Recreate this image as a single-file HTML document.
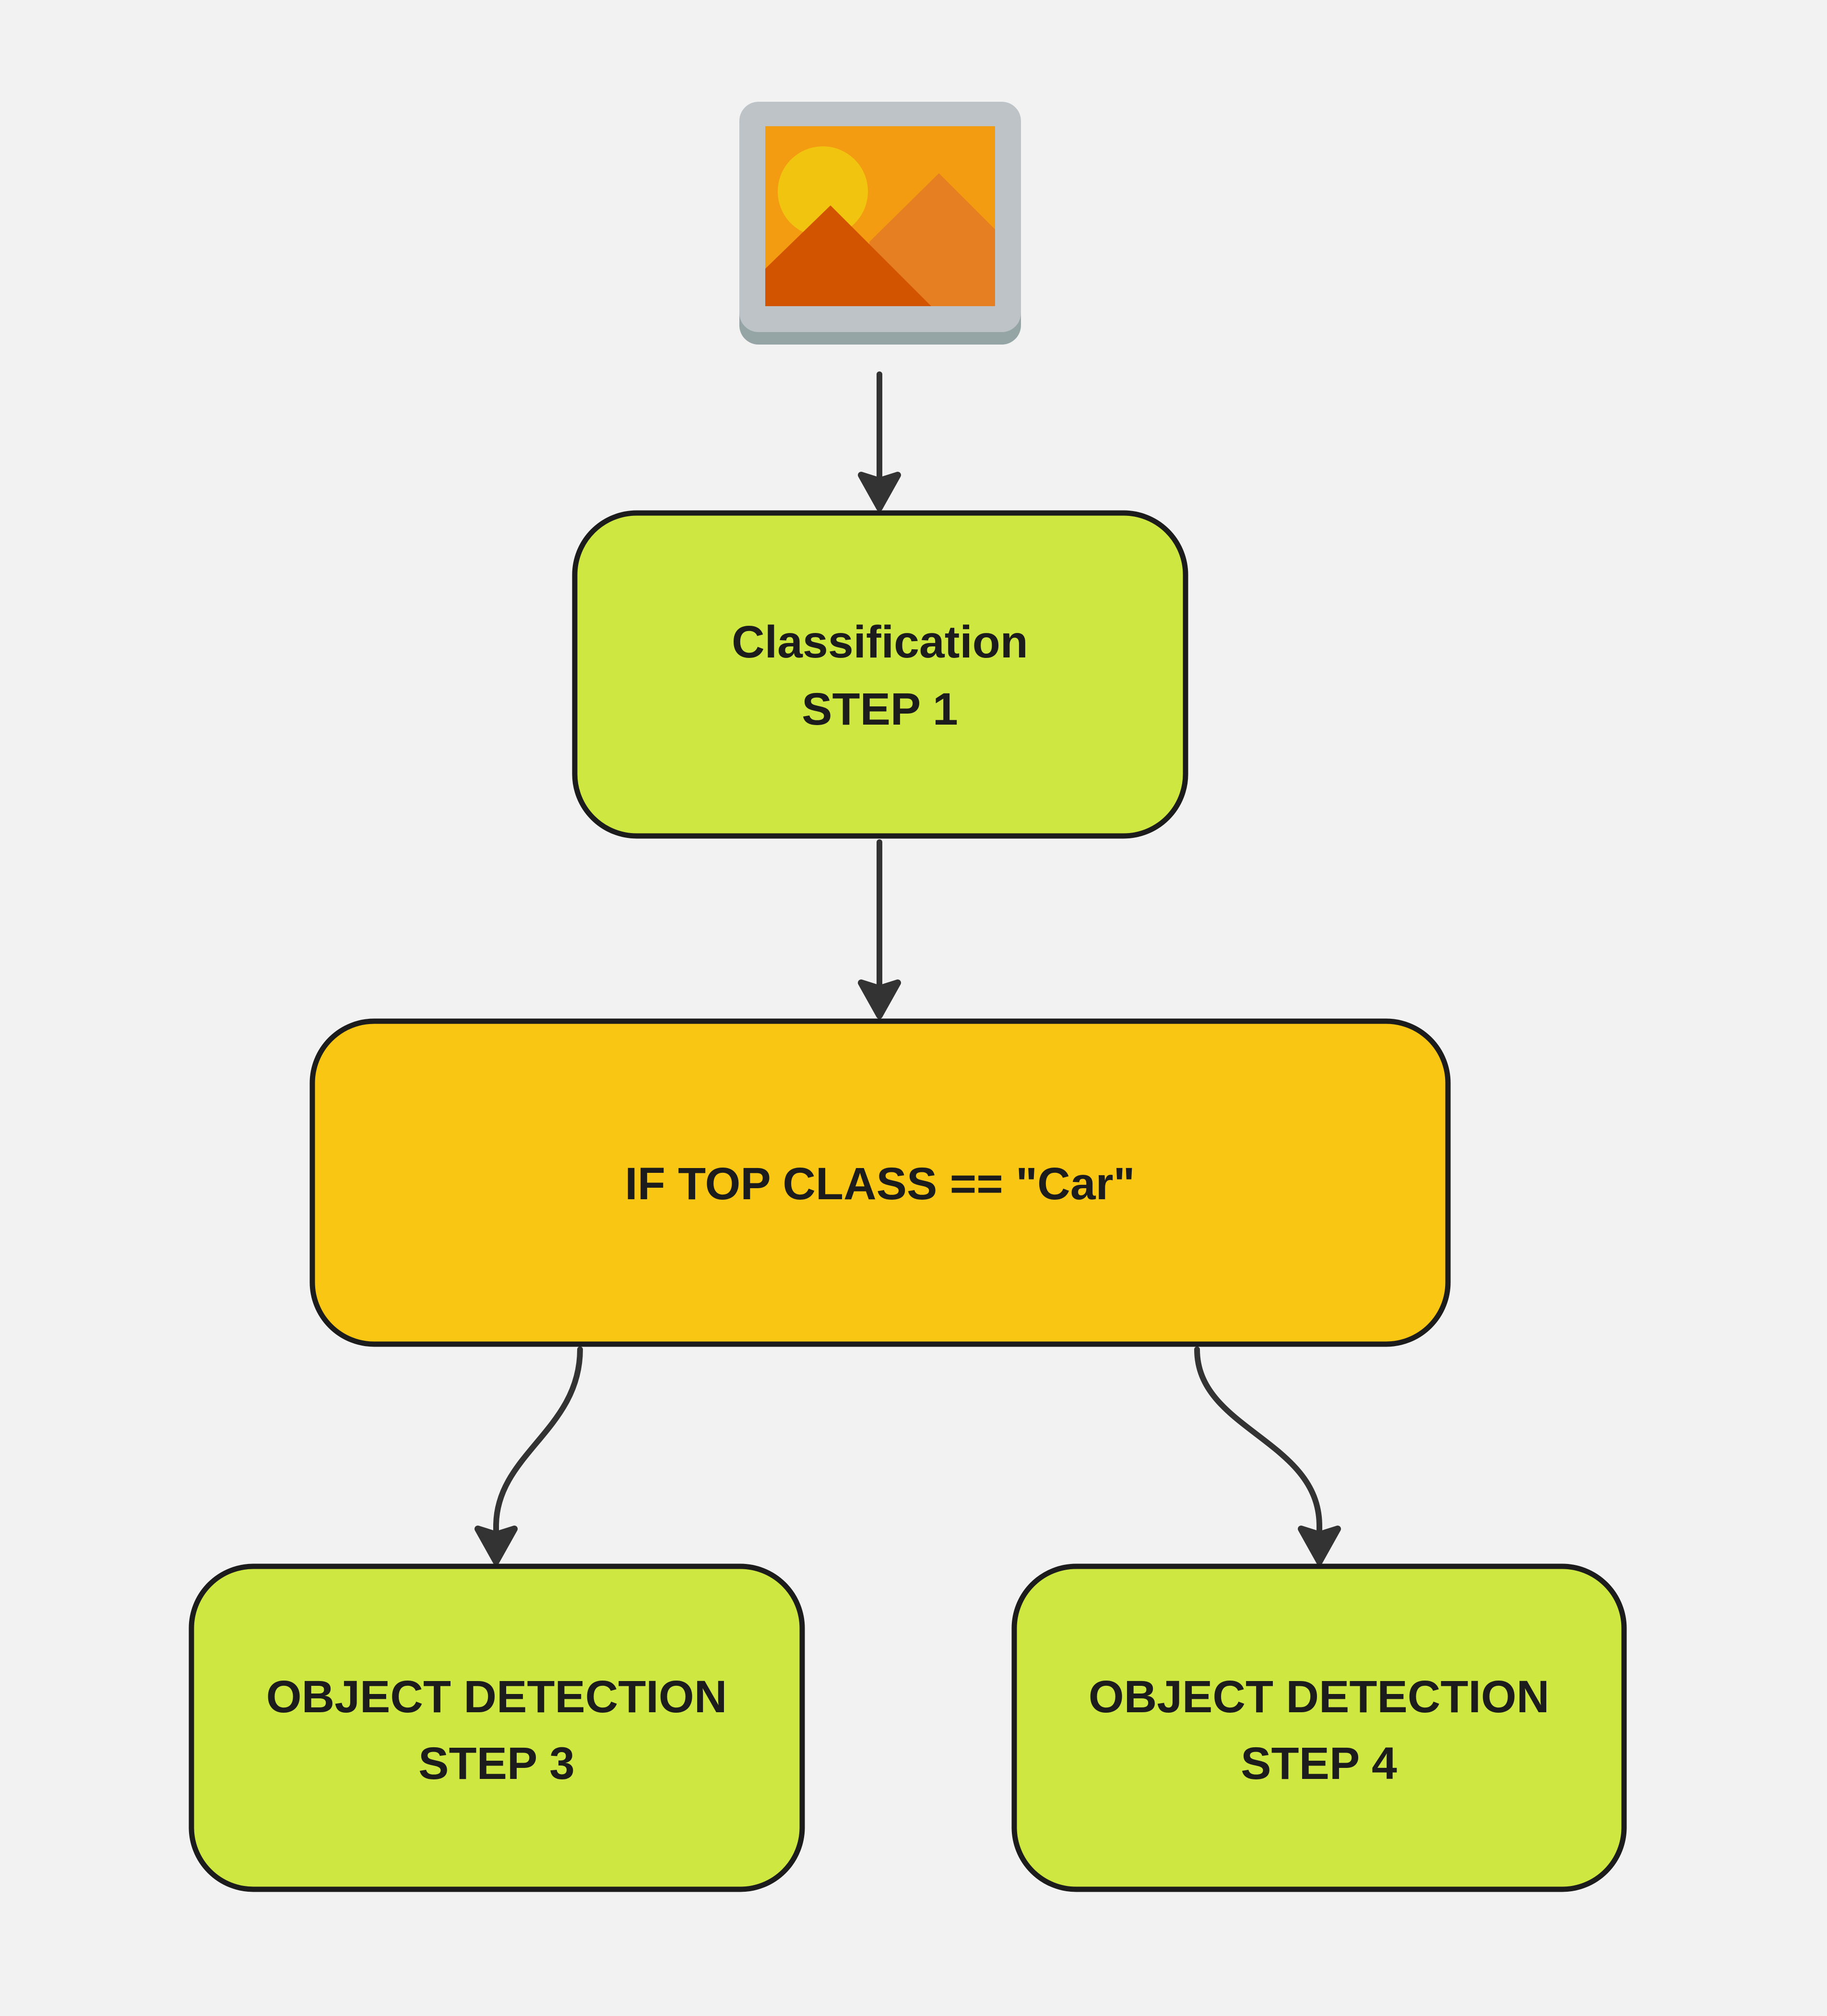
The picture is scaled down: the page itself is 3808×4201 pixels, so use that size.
<!DOCTYPE html>
<html><head><meta charset="utf-8"><style>
html,body{margin:0;padding:0;background:#f2f2f2;}
svg{display:block;}
text{font-family:"Liberation Sans","DejaVu Sans",sans-serif;font-weight:bold;fill:#1c1c1c;}
</style></head><body>
<svg width="3808" height="4201" viewBox="0 0 3808 4201" xmlns="http://www.w3.org/2000/svg">
<defs>
<g id="ah"><polygon points="-38,-68 0,-56 38,-68 0,0" fill="#333" stroke="#333" stroke-width="14" stroke-linejoin="round"/></g>
</defs>
<rect width="3808" height="4201" fill="#f2f2f2"/>
<rect x="1541" y="238" width="587" height="480" rx="40" fill="#95a5a6"/>
<rect x="1541" y="212" width="587" height="480" rx="40" fill="#bdc3c7"/>
<rect x="1595" y="263" width="479" height="375" fill="#f39c12"/>
<circle cx="1715" cy="399" r="94" fill="#f1c40f"/>
<polygon points="1812,504 1957,361 2074,478 2074,638 1812,638" fill="#e67e22"/>
<polygon points="1595,560 1731,428 1941,638 1595,638" fill="#d35400"/>
<g stroke="#333" stroke-width="12" fill="none" stroke-linecap="round">
<line x1="1833" y1="780" x2="1833" y2="1010"/>
<line x1="1833" y1="1755" x2="1833" y2="2068"/>
<path d="M1209 2812 C1209 2980 1034 3030 1034 3180 L1034 3210"/>
<path d="M2495 2812 C2495 2980 2750 3000 2750 3180 L2750 3210"/>
</g>
<use href="#ah" x="1833" y="1058"/>
<use href="#ah" x="1833" y="2116"/>
<use href="#ah" x="1034" y="3254"/>
<use href="#ah" x="2750" y="3254"/>
<g stroke="#1c1c1c" stroke-width="11">
<rect x="1198" y="1069" width="1273" height="673" rx="129" fill="#cfe741"/>
<rect x="651" y="2128" width="2367" height="673" rx="129" fill="#f9c613"/>
<rect x="399" y="3264" width="1273" height="673" rx="129" fill="#cfe741"/>
<rect x="2114" y="3264" width="1271" height="673" rx="129" fill="#cfe741"/>
</g>
<g font-size="95" text-anchor="middle">
<text x="1834" y="1370">Classification</text>
<text x="1834" y="1510">STEP 1</text>
<text x="1834" y="2499">IF TOP CLASS == "Car"</text>
<text x="1035" y="3568">OBJECT DETECTION</text>
<text x="1035" y="3707">STEP 3</text>
<text x="2749" y="3568">OBJECT DETECTION</text>
<text x="2749" y="3707">STEP 4</text>
</g>
</svg>
</body></html>
